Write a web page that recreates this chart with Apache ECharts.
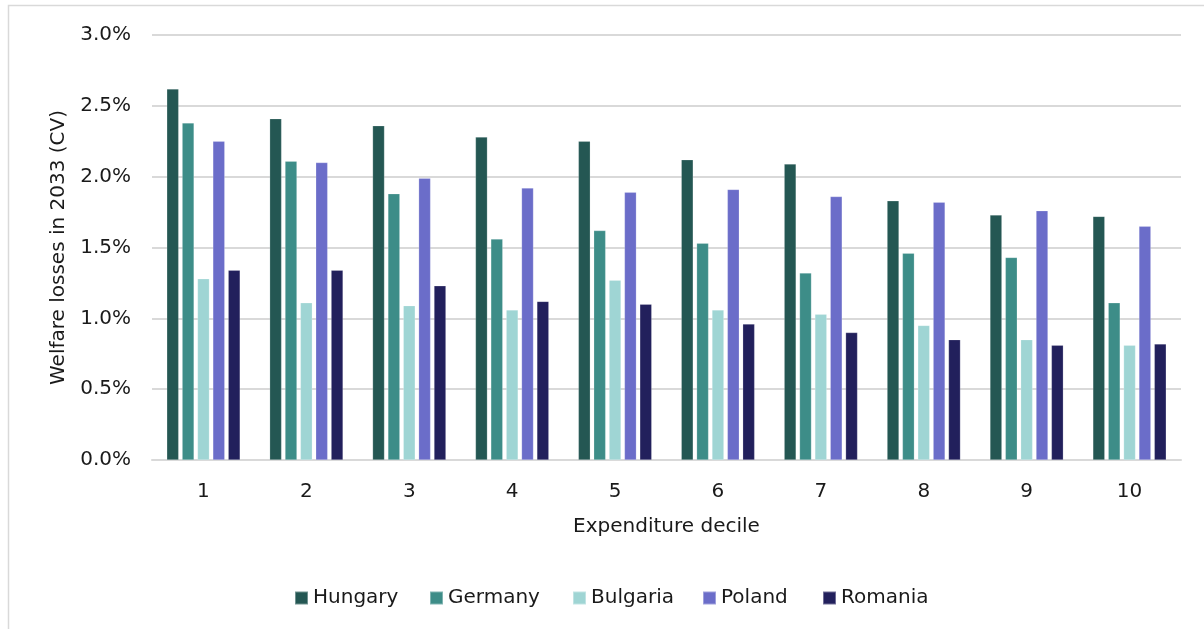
<!DOCTYPE html>
<html>
<head>
<meta charset="utf-8">
<script src="https://cdn.jsdelivr.net/npm/echarts@6/dist/echarts.min.js"></script>
<style>
    html, body { margin: 0; padding: 0; background: #fff; }
    #welfare_chart { width: 1204px; height: 629px; }
</style>
</head>
<body>
<div id="welfare_chart"></div>
<script>
const deciles = ["1", "2", "3", "4", "5", "6", "7", "8", "9", "10"];

// welfare losses in 2033, % of expenditure (CV)
const hungary  = [2.62, 2.41, 2.36, 2.28, 2.25, 2.12, 2.09, 1.83, 1.73, 1.72];
const germany  = [2.38, 2.11, 1.88, 1.56, 1.62, 1.53, 1.32, 1.46, 1.43, 1.11];
const bulgaria = [1.28, 1.11, 1.09, 1.06, 1.27, 1.06, 1.03, 0.95, 0.85, 0.81];
const poland   = [2.25, 2.10, 1.99, 1.92, 1.89, 1.91, 1.86, 1.82, 1.76, 1.65];
const romania  = [1.34, 1.34, 1.23, 1.12, 1.10, 0.96, 0.90, 0.85, 0.81, 0.82];

const yTicks = [0, 0.5, 1.0, 1.5, 2.0, 2.5, 3.0];

const countries = [
    { name: "Hungary",  data: hungary,  color: "#245753" },
    { name: "Germany",  data: germany,  color: "#3d8d88" },
    { name: "Bulgaria", data: bulgaria, color: "#9fd5d4" },
    { name: "Poland",   data: poland,   color: "#6b6dc9" },
    { name: "Romania",  data: romania,  color: "#22205c" },
];

// legend entries are placed one by one so the spacing follows the original
const legendLeft = [294, 429, 572, 702, 822];

const FONT = "DejaVu Sans";
const TEXT = "#1a1a1a";

const chart = echarts.init(document.getElementById("welfare_chart"));

const option = {
    animation: false,
    textStyle: { fontFamily: FONT },
    graphic: [{
        type: "rect",
        shape: { x: 8.5, y: 5.5, width: 1220, height: 640 },
        style: { fill: "none", stroke: "#d9d9d9", lineWidth: 1.5 },
        silent: true
    }],
    legend: countries.map((c, i) => ({
        left: legendLeft[i],
        top: 588,
        padding: 0,
        itemWidth: 13,
        itemHeight: 13,
        icon: "rect",
        textStyle: { fontFamily: FONT, fontSize: 20, color: TEXT },
        data: [c.name]
    })),
    grid: {
        left: 152,
        right: 23,
        top: 35,
        bottom: 169,
        containLabel: false
    },
    xAxis: {
        type: "category",
        data: deciles,
        name: "Expenditure decile",
        nameLocation: "middle",
        nameGap: 57,
        nameTextStyle: { fontFamily: FONT, fontSize: 20, color: TEXT },
        axisLine: { lineStyle: { color: "#d9d9d9", width: 2 } },
        axisTick: { show: false },
        axisLabel: { fontFamily: FONT, fontSize: 20, color: TEXT, margin: 22 }
    },
    yAxis: {
        type: "value",
        min: yTicks[0],
        max: yTicks[yTicks.length - 1],
        interval: 0.5,
        name: "Welfare losses in 2033 (CV)",
        nameLocation: "middle",
        nameGap: 80,
        nameTextStyle: { fontFamily: FONT, fontSize: 20, color: TEXT },
        axisLine: { show: false },
        axisTick: { show: false },
        axisLabel: {
            fontFamily: FONT,
            fontSize: 20,
            color: TEXT,
            margin: 21,
            formatter: (v) => v.toFixed(1) + "%"
        },
        splitLine: { lineStyle: { color: "#d9d9d9", width: 2 } }
    },
    series: countries.map((c) => ({
        name: c.name,
        type: "bar",
        data: c.data,
        barWidth: 12,
        barGap: "28%",
        itemStyle: { color: c.color, borderColor: "rgba(255,255,255,0.35)", borderWidth: 0.6 }
    }))
};

chart.setOption(option);
</script>
</body>
</html>
